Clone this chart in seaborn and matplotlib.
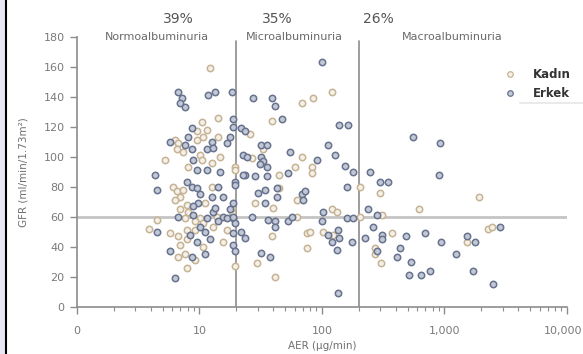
import matplotlib
matplotlib.use("Agg")
import matplotlib.pyplot as plt
import matplotlib.transforms as mtransforms
import seaborn as sns
import numpy as np
import pandas as pd
from matplotlib.lines import Line2D
from matplotlib.patches import Rectangle
from matplotlib.ticker import FixedLocator, LogLocator, NullFormatter

# Data: AER in ug/min, GFR in ml/min/1.73m2
kadin_aer = [12.2, 10.5, 14.1, 9.5, 11.5, 6.3, 6.7, 9.5, 10.7, 14.1, 6.5, 7.3, 10.1, 14.7, 5.2, 10.5, 12.6, 8.0, 19.5,
             68.7, 84, 120, 39, 25.8, 33, 26.8, 69, 60, 83, 83, 45, 19.5,
             203, 45, 63, 28.5, 40, 18.4, 63, 120, 132, 203, 16.8, 19.5, 15.5, 10.7, 39, 75, 80, 75, 102, 123, 29.5, 41,
             297, 1920, 310, 620, 375, 270, 270, 305, 1520, 2270, 2450,
             6.1, 6.5, 6.9, 6.3, 7.3, 7.9, 6.9, 8.0, 11.1, 12.6, 18.4, 7.6, 10.1, 9.2, 10.7, 13.8, 4.5, 3.9, 5.7, 6.7,
             7.9, 9.2, 12.9, 7.9, 6.9, 6.7, 7.6, 9.2, 7.9]
kadin_gfr = [159, 123, 126, 117, 118, 111, 109, 111, 113, 113, 105, 103, 101, 100, 98, 98, 96, 93, 93,
             136, 139, 143, 124, 115, 105, 99, 100, 93, 93, 89, 88, 91,
             80, 79, 71, 69, 66, 63, 60, 65, 63, 60, 51, 27, 43, 40, 47, 49, 50, 39, 50, 48, 29, 20,
             76, 73, 61, 65, 49, 39, 35, 29, 43, 52, 53,
             80, 77, 73, 71, 78, 68, 65, 63, 69, 80, 66, 59, 59, 57, 56, 60, 58, 52, 49, 47,
             51, 51, 53, 45, 41, 33, 35, 31, 26]

erkek_aer = [6.7, 7.2, 6.9, 7.6, 11.7, 13.4, 18.4, 18.7, 8.7, 8.0, 5.7, 7.6, 12.6, 16.8, 17.7, 8.7, 11.5, 12.9, 8.9,
             9.5, 11.5, 14.7, 4.3, 23.5, 7.9,
             100, 27.3, 39, 41, 47, 139, 163, 18.7, 22, 23.5, 32, 35.5, 111, 128, 22.6, 24.4, 32, 33, 31, 35.5, 55,
             91, 153, 178, 246, 22.6, 28.5, 35.5, 52.5,
             160, 19.5, 30, 34, 43, 43, 69, 73, 70, 34, 17.7, 18.7, 12.9, 15.5, 18.7, 19.5, 26.8, 36, 41, 52.5, 57,
             102, 100, 160, 178, 237, 280, 260, 18.7, 22, 23.5, 18.7, 19.5, 12.2, 41, 111, 134, 139, 120, 132, 175,
             225, 32, 37.5, 134,
             297, 346, 900, 550, 920, 310, 310, 485, 700, 280, 430, 410, 530, 935, 1240, 1520, 1780, 2840, 510, 640,
             760, 1700, 2500,
             4.5, 8.7, 9.5, 10.1, 9.7, 8.9, 14.1, 12.6, 13.4, 15.5, 19.5, 6.7, 8.9, 11.5, 14.1, 16.8, 18.7, 4.5, 8.4,
             10.1, 11.1, 9.5, 5.7, 8.7, 11.1, 6.3]
erkek_gfr = [143, 139, 136, 133, 141, 143, 143, 125, 119, 113, 110, 108, 110, 109, 113, 105, 105, 106, 98,
             91, 91, 90, 88, 88, 83,
             163, 139, 139, 134, 125, 121, 121, 120, 119, 117, 108, 108, 108, 101, 101, 100, 100, 97, 95, 93, 103,
             98, 94, 90, 90, 88, 87, 87, 89,
             80, 83, 76, 78, 79, 73, 75, 77, 71, 69, 65, 69, 63, 60, 59, 56, 60, 58, 57, 57, 60,
             63, 57, 59, 59, 65, 61, 53, 49, 50, 46, 41, 37, 45, 53, 48, 51, 46, 43, 38, 43,
             46, 36, 33, 9,
             83, 83, 88, 113, 109, 48, 45, 47, 49, 37, 39, 33, 30, 43, 35, 47, 43, 53, 21, 21,
             24, 24, 15,
             78, 80, 79, 75, 69, 67, 80, 73, 66, 73, 81, 60, 61, 59, 57, 59, 60, 50, 48,
             53, 50, 43, 37, 33, 35, 19]

groups = ["Kadın", "Erkek"]
edge_colors = {"Kadın": "#c6b393", "Erkek": "#67728f"}
face_colors = {"Kadın": "#f4f0ea", "Erkek": "#c3c8d5"}

df = pd.concat([
    pd.DataFrame({"AER": kadin_aer, "GFR": kadin_gfr, "Cinsiyet": "Kadın"}),
    pd.DataFrame({"AER": erkek_aer, "GFR": erkek_gfr, "Cinsiyet": "Erkek"}),
], ignore_index=True)

sns.set_theme(style="white")
plt.rcParams['font.family'] = ['DejaVu Sans']

fig = plt.figure(figsize=(5.83, 3.54), dpi=100)
ax = fig.add_axes([0.132, 0.1328, 0.8405, 0.7627])

grey = "#8c8c8c"
ax.axvline(20, ymin=0, ymax=0.985, color=grey, lw=1.2, zorder=1)
ax.axvline(200, ymin=0, ymax=0.985, color=grey, lw=1.2, zorder=1)
ax.axhline(60, color="#c4c4c4", lw=2.0, zorder=1)

for g in groups:
    sns.scatterplot(data=df[df["Cinsiyet"] == g], x="AER", y="GFR", ax=ax,
                    color=face_colors[g], edgecolor=edge_colors[g], linewidth=1.1,
                    s=21, zorder=3, legend=False)

ax.set_xscale("log")
ax.set_xlim(1, 10000)
ax.set_ylim(0, 180)

ax.xaxis.set_major_locator(FixedLocator([1, 10, 100, 1000, 10000]))
ax.set_xticklabels(["0", "10", "100", "1,000", "10,000"])
ax.xaxis.set_minor_locator(LogLocator(base=10, subs=np.arange(2, 10)))
ax.xaxis.set_minor_formatter(NullFormatter())
ax.set_yticks(np.arange(0, 181, 20))

for s in ["top", "right"]:
    ax.spines[s].set_visible(False)
for s in ["left", "bottom"]:
    ax.spines[s].set_color(grey)
    ax.spines[s].set_linewidth(1.2)

ax.tick_params(axis="both", which="major", direction="out", length=5, width=1,
               color=grey, labelcolor="#7a7a7a", labelsize=8, pad=4)
ax.tick_params(axis="x", which="minor", direction="out", length=3, width=0.8, color=grey)
ax.tick_params(axis="x", which="major", pad=9)
ax.tick_params(bottom=True, left=True, which="major")
ax.tick_params(bottom=True, which="minor")

# nudge the last x tick label so it stays inside the picture
last = ax.get_xticklabels()[-1]
last.set_transform(last.get_transform() + mtransforms.ScaledTranslation(-4 / 100, 0, fig.dpi_scale_trans))

ax.set_xlabel("AER (µg/min)", fontsize=7.5, color="#707070", labelpad=3)
ax.set_ylabel("GFR (ml/min/1.73m²)", fontsize=7.5, color="#707070", labelpad=11)

# Region labels
ax.text(4.5, 180, "Normoalbuminuria", ha="center", va="center", fontsize=8, color="#6a6a6a", clip_on=False)
ax.text(60, 180, "Microalbuminuria", ha="center", va="center", fontsize=8, color="#6a6a6a", clip_on=False)
ax.text(1150, 180, "Macroalbuminuria", ha="center", va="center", fontsize=8, color="#6a6a6a", clip_on=False)
ax.text(6.7, 192, "39%", ha="center", va="center", fontsize=10, color="#555555", clip_on=False)
ax.text(43, 192, "35%", ha="center", va="center", fontsize=10, color="#555555", clip_on=False)
ax.text(290, 192, "26%", ha="center", va="center", fontsize=10, color="#555555", clip_on=False)

handles = [Line2D([0], [0], marker="o", linestyle="", markersize=4,
                  markerfacecolor=face_colors[g], markeredgecolor=edge_colors[g], markeredgewidth=0.9)
           for g in groups]
leg = ax.legend(handles, groups, loc="upper left", bbox_to_anchor=(0.838, 0.925), frameon=False,
                handletextpad=0.9, labelspacing=0.55, prop={"weight": "bold", "size": 8.5})
for t in leg.get_texts():
    t.set_color("#333333")
fig.add_artist(Line2D([0.892, 1.0], [0.709, 0.709], color="#e6e6e6", lw=1.2))

# page edge on the left
fig.add_artist(Rectangle((0, 0), 0.009, 1, transform=fig.transFigure, color="#e8e8f4", zorder=0))
fig.add_artist(Line2D([0.0105, 0.0105], [0, 1], color="black", lw=1.5))

fig.savefig("out.png", dpi=100)
